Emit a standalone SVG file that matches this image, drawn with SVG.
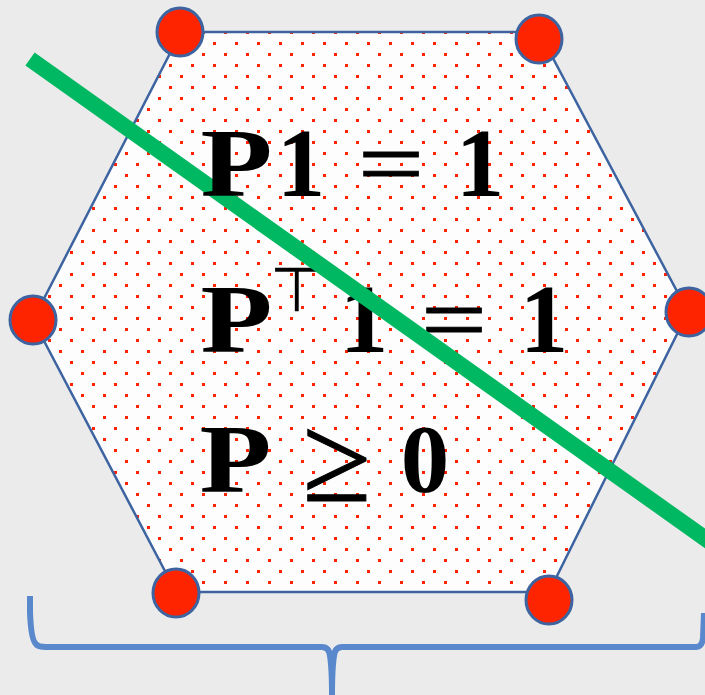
<svg xmlns="http://www.w3.org/2000/svg" width="705" height="695" viewBox="0 0 705 695">
<defs>
<pattern id="dots" x="4" y="9" width="22" height="22" patternUnits="userSpaceOnUse">
<rect x="0" y="0" width="3" height="3" fill="#ff2200"/>
<rect x="11" y="11" width="3" height="3" fill="#ff2200"/>
</pattern>
<style>
.v{fill:#ff2400;stroke:#3d64a0;stroke-width:3}
.b{font-family:"Liberation Serif","Times New Roman",serif;font-weight:bold;font-size:97px;fill:#000;text-anchor:middle}
.r{font-family:"Liberation Serif","Times New Roman",serif;font-size:97px;fill:#000;text-anchor:middle}
</style>
</defs>
<rect width="705" height="695" fill="#ebebeb"/>
<g id="polytope">
<polygon points="181,32 539,32 688,312 549,592 176,592 33,320" fill="#fdfdfd" stroke="none"/>
<polygon points="181,32 539,32 688,312 549,592 176,592 33,320" fill="url(#dots)" stroke="#3d64a0" stroke-width="2.5"/>
</g>
<g id="eq2">
<text class="b" x="236.5" y="352" textLength="72" lengthAdjust="spacingAndGlyphs">P</text>
<text x="297" y="311" font-family="DejaVu Sans,sans-serif" font-size="62" text-anchor="middle" fill="#000">⊤</text>
<text class="b" x="364" y="352">1</text>
<text class="r" x="454" y="352" textLength="66" lengthAdjust="spacingAndGlyphs" stroke="#000" stroke-width="1">=</text>
<text class="b" x="544" y="352">1</text>
</g>
<g id="eq3">
<text class="b" x="235.5" y="492" textLength="72" lengthAdjust="spacingAndGlyphs">P</text>
<text class="r" x="337" y="501" style="font-size:125px" stroke="#000" stroke-width="1">≥</text>
<text class="b" x="425" y="492">0</text>
</g>
<g id="connectors">
<line id="hyperplane" x1="30" y1="59" x2="720" y2="549" stroke="#00b862" stroke-width="16"/>
<path id="brace" d="M30,596 L30,612 Q31,640 36,644 Q38,647 46,647 L322,647 Q329,647 330,656 Q332,668 332,695 M332,695 Q332,668 334,656 Q335,647 342,647 L696,647 Q702,647 703,638 L704,613" fill="none" stroke="#5a88cc" stroke-width="6"/>
</g>
<g id="eq1">
<text class="b" x="236.5" y="196" textLength="72" lengthAdjust="spacingAndGlyphs">P</text>
<text class="b" x="301" y="196">1</text>
<text class="r" x="391" y="196" textLength="66" lengthAdjust="spacingAndGlyphs" stroke="#000" stroke-width="1">=</text>
<text class="b" x="480" y="196">1</text>
</g>
<g id="v1"><ellipse class="v" cx="180" cy="32" rx="23" ry="24"/></g>
<g id="v2"><ellipse class="v" cx="539" cy="39" rx="23" ry="24"/></g>
<g id="v3"><ellipse class="v" cx="689" cy="312" rx="23" ry="24"/></g>
<g id="v4"><ellipse class="v" cx="549" cy="600" rx="23" ry="24"/></g>
<g id="v5"><ellipse class="v" cx="176" cy="593" rx="23" ry="24"/></g>
<g id="v6"><ellipse class="v" cx="33" cy="320" rx="23" ry="24"/></g>
</svg>
